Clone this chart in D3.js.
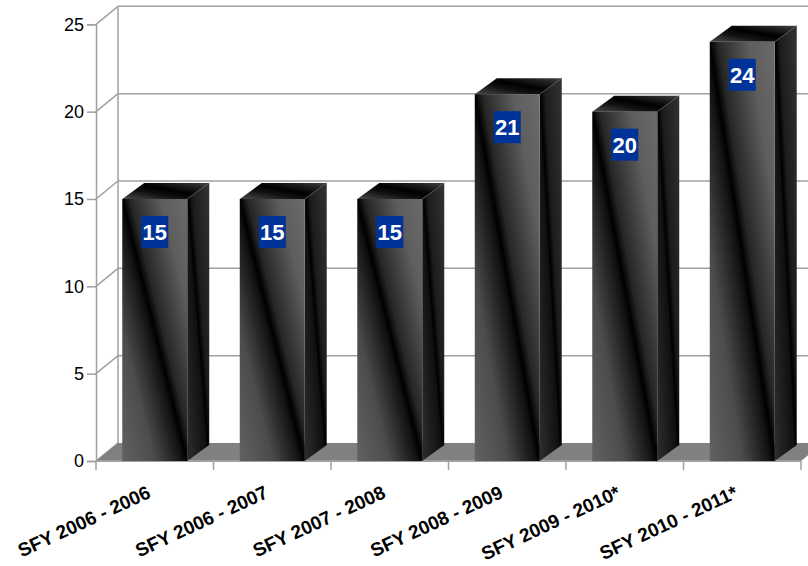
<!DOCTYPE html>
<html>
<head>
<meta charset="utf-8">
<script src="https://cdn.jsdelivr.net/npm/d3@7"></script>
<style>
  html, body { margin: 0; padding: 0; background: #fff; }
  svg { display: block; font-family: Arial, "Liberation Sans", sans-serif; }
</style>
</head>
<body>
<svg id="chart" width="808" height="566"></svg>
<script>
// Fiscal years and counts
const categories = ["SFY 2006 - 2006", "SFY 2006 - 2007", "SFY 2007 - 2008",
                    "SFY 2008 - 2009", "SFY 2009 - 2010*", "SFY 2010 - 2011*"];
const values = [15, 15, 15, 21, 20, 24];
const yTicks = [0, 5, 10, 15, 20, 25];

const svg = d3.select("#chart");

// Plot frame (front plane) and 3D depth offsets
const x0 = 96, x1 = 801, yBottom = 461, yTop = 24.3;
const wallDx = 22, wallDy = -18;   // depth of walls / floor
const barDx = 22, barDy = -16;     // depth of each column

const x = d3.scaleBand().domain(categories).range([x0, x1])
  .paddingInner(0.447).paddingOuter(0.2235);
const y = d3.scaleLinear().domain([0, 25]).range([yBottom, yTop]);

const gridColor = "#a0a0a0";

// Gradients for the column faces
const defs = svg.append("defs");
function addGradient(id, stops) {
  const g = defs.append("linearGradient").attr("id", id)
    .attr("x1", 0).attr("y1", 1).attr("x2", 1).attr("y2", 0);
  stops.forEach(([o, c]) => g.append("stop").attr("offset", o).attr("stop-color", c));
}
addGradient("gFront", [[0, "#626262"], [0.25, "#4c4c4c"], [0.46, "#121212"], [0.5, "#000"],
  [0.56, "#262626"], [0.8, "#5e5e5e"], [1, "#6a6a6a"]]);
addGradient("gSide", [[0, "#2e2e2e"], [0.45, "#101010"], [0.5, "#000"], [0.6, "#1c1c1c"], [1, "#333"]]);
addGradient("gTop", [[0, "#4a4a4a"], [0.35, "#111"], [0.55, "#000"], [0.8, "#222"], [1, "#444"]]);

// Back wall gridlines
const grid = svg.append("g");
grid.selectAll("line.h").data(yTicks.filter(d => d > 0)).join("line").attr("class", "h")
  .attr("x1", x0 + wallDx).attr("x2", x1 + wallDx)
  .attr("y1", d => y(d) + wallDy).attr("y2", d => y(d) + wallDy)
  .attr("stroke", gridColor).attr("stroke-width", 1.5);
// Side wall diagonals
grid.selectAll("line.d").data(yTicks).join("line").attr("class", "d")
  .attr("x1", x0).attr("x2", x0 + wallDx)
  .attr("y1", d => y(d)).attr("y2", d => y(d) + wallDy)
  .attr("stroke", gridColor).attr("stroke-width", 1.5);
// Back wall left edge
grid.append("line")
  .attr("x1", x0 + wallDx).attr("x2", x0 + wallDx)
  .attr("y1", y(25) + wallDy).attr("y2", y(0) + wallDy)
  .attr("stroke", gridColor).attr("stroke-width", 1.5);

// Floor
svg.append("path")
  .attr("d", `M${x0},${y(0)} L${x1},${y(0)} L${x1 + wallDx},${y(0) + wallDy} L${x0 + wallDx},${y(0) + wallDy} Z`)
  .attr("fill", "#808080");

// Y axis (front left edge)
const yAxis = d3.axisLeft(y).tickValues(yTicks).tickSize(9).tickPadding(3);
const gy = svg.append("g").attr("transform", `translate(${x0},0)`).call(yAxis);
gy.select(".domain").attr("stroke", gridColor).attr("stroke-width", 1.5);
gy.selectAll(".tick line").attr("stroke", gridColor).attr("stroke-width", 1.5);
gy.selectAll(".tick text").attr("font-size", 18).attr("fill", "#000")
  .attr("font-family", "Arial, 'Liberation Sans', sans-serif");

// X axis (front floor edge)
const gx = svg.append("g").attr("transform", `translate(0,${yBottom})`);
gx.append("line").attr("x1", x0).attr("x2", x1).attr("y1", 0).attr("y2", 0)
  .attr("stroke", gridColor).attr("stroke-width", 2);
const step = x.step();
gx.selectAll("line.t").data(d3.range(categories.length + 1)).join("line").attr("class", "t")
  .attr("x1", i => x0 + i * step).attr("x2", i => x0 + i * step)
  .attr("y1", 0).attr("y2", 9)
  .attr("stroke", gridColor).attr("stroke-width", 1.5);
gx.selectAll("text").data(categories).join("text")
  .attr("transform", d => `translate(${x(d) + x.bandwidth() / 2 - 3},${36}) rotate(-25)`)
  .attr("text-anchor", "end")
  .attr("font-size", 19).attr("font-weight", "bold").attr("fill", "#000")
  .text(d => d);

// Columns
const bars = svg.append("g").selectAll("g").data(categories).join("g");
bars.append("path") // side
  .attr("d", (d, i) => {
    const r = x(d) + x.bandwidth(), t = y(values[i]), b = y(0);
    return `M${r},${b} L${r},${t} L${r + barDx},${t + barDy} L${r + barDx},${b + barDy} Z`;
  })
  .attr("fill", "url(#gSide)");
bars.append("path") // top
  .attr("d", (d, i) => {
    const l = x(d), r = l + x.bandwidth(), t = y(values[i]);
    return `M${l},${t} L${r},${t} L${r + barDx},${t + barDy} L${l + barDx},${t + barDy} Z`;
  })
  .attr("fill", "url(#gTop)");
bars.append("line") // edge highlight
  .attr("x1", d => x(d) + x.bandwidth()).attr("x2", d => x(d) + x.bandwidth() + barDx)
  .attr("y1", (d, i) => y(values[i])).attr("y2", (d, i) => y(values[i]) + barDy)
  .attr("stroke", "#555").attr("stroke-width", 0.8);
bars.append("rect") // front
  .attr("x", d => x(d)).attr("width", x.bandwidth())
  .attr("y", (d, i) => y(values[i])).attr("height", (d, i) => y(0) - y(values[i]))
  .attr("fill", "url(#gFront)");

// Value labels
const labels = svg.append("g").selectAll("g").data(categories).join("g")
  .attr("transform", (d, i) => `translate(${x(d) + x.bandwidth() / 2},${y(values[i]) + 33})`);
labels.append("rect")
  .attr("x", -13.5).attr("y", -16).attr("width", 27).attr("height", 32)
  .attr("fill", "#003399");
labels.append("text")
  .attr("text-anchor", "middle").attr("dy", "0.36em")
  .attr("font-size", 22).attr("font-weight", "bold").attr("fill", "#fff")
  .text((d, i) => values[i]);
</script>
</body>
</html>
